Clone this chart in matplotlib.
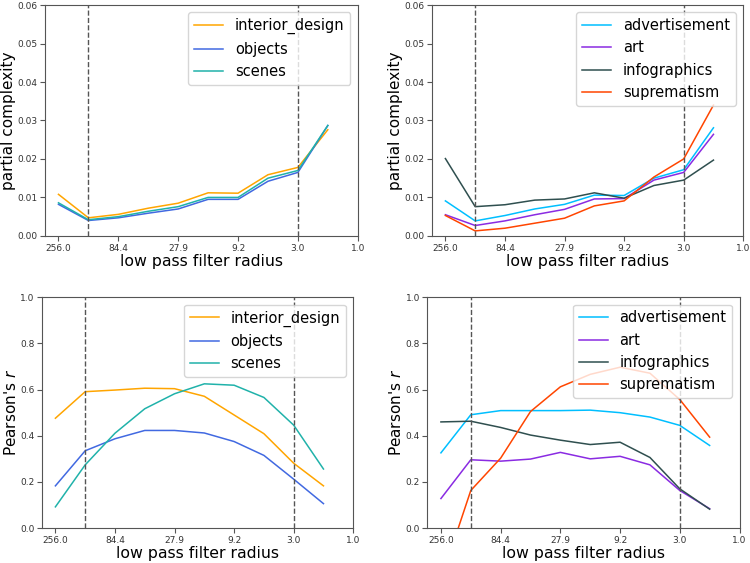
import numpy as np
import matplotlib
matplotlib.use("Agg")
import matplotlib.pyplot as plt

# low pass filter radius labels (every second step), 10 steps measured
tick_labels = ['256.0', '84.4', '27.9', '9.2', '3.0', '1.0']
steps = np.arange(10)

# partial complexity, left group
pc_interior = [0.0108, 0.0047, 0.0056, 0.0072, 0.0085, 0.0112, 0.0111, 0.0159, 0.0178, 0.0276]
pc_objects = [0.0082, 0.0040, 0.0047, 0.0059, 0.0070, 0.0095, 0.0095, 0.0142, 0.0165, 0.0287]
pc_scenes = [0.0086, 0.0042, 0.0050, 0.0064, 0.0076, 0.0100, 0.0100, 0.0150, 0.0170, 0.0287]

# partial complexity, right group
pc_advert = [0.0091, 0.0039, 0.0053, 0.0070, 0.0082, 0.0106, 0.0105, 0.0150, 0.0172, 0.0281]
pc_art = [0.0055, 0.0027, 0.0039, 0.0055, 0.0069, 0.0096, 0.0097, 0.0145, 0.0165, 0.0264]
pc_info = [0.0201, 0.0076, 0.0081, 0.0093, 0.0096, 0.0112, 0.0098, 0.0131, 0.0145, 0.0197]
pc_suprem = [0.0053, 0.0013, 0.0020, 0.0033, 0.0046, 0.0078, 0.0091, 0.0153, 0.0200, 0.0340]

# pearson's r, left group
r_interior = [0.476, 0.591, 0.598, 0.606, 0.604, 0.571, 0.490, 0.409, 0.281, 0.183]
r_objects = [0.183, 0.335, 0.387, 0.423, 0.423, 0.412, 0.375, 0.315, 0.212, 0.106]
r_scenes = [0.092, 0.274, 0.411, 0.517, 0.582, 0.625, 0.619, 0.566, 0.446, 0.256]

# pearson's r, right group
r_advert = [0.326, 0.491, 0.509, 0.509, 0.509, 0.511, 0.500, 0.481, 0.445, 0.358]
r_art = [0.128, 0.296, 0.290, 0.299, 0.328, 0.300, 0.311, 0.274, 0.163, 0.084]
r_info = [0.460, 0.463, 0.436, 0.403, 0.381, 0.362, 0.372, 0.306, 0.170, 0.082]
r_suprem = [-0.225, 0.163, 0.303, 0.505, 0.612, 0.666, 0.697, 0.671, 0.557, 0.394]

left_names = ['interior_design', 'objects', 'scenes']
left_colors = ['orange', 'royalblue', 'lightseagreen']
right_names = ['advertisement', 'art', 'infographics', 'suprematism']
right_colors = ['deepskyblue', 'blueviolet', 'darkslategray', 'orangered']

fig = plt.figure(figsize=(7.5, 5.63), dpi=100)
ax_tl = fig.add_axes([0.060, 0.581, 0.417, 0.410])
ax_tr = fig.add_axes([0.576, 0.581, 0.415, 0.410])
ax_bl = fig.add_axes([0.056, 0.062, 0.415, 0.410])
ax_br = fig.add_axes([0.570, 0.062, 0.416, 0.410])


def draw(ax, series, names, colors, ylim, yticks, ylabel, fmt):
    for vals, name, c in zip(series, names, colors):
        ax.plot(steps, vals, color=c, lw=1.1, label=name)
    ax.axvline(1, color='#555555', ls='--', lw=1)
    ax.axvline(8, color='#555555', ls='--', lw=1)
    ax.set_xlim(-0.45, 10)
    ax.set_xticks(np.arange(0, 11, 2))
    ax.set_xticklabels(tick_labels)
    ax.set_ylim(*ylim)
    ax.set_yticks(yticks)
    ax.set_yticklabels([fmt.format(v) for v in yticks])
    ax.tick_params(labelsize=6.5, colors='#555555', labelcolor='#333333', length=3.5, pad=2)
    for s in ax.spines.values():
        s.set_color('#555555')
    ax.set_xlabel('low pass filter radius', fontsize=11.3, labelpad=1)
    ax.set_ylabel(ylabel, fontsize=11, labelpad=1)
    ax.legend(loc='upper right', fontsize=10.5)


draw(ax_tl, [pc_interior, pc_objects, pc_scenes], left_names, left_colors,
     (0, 0.06), np.linspace(0, 0.06, 7), 'partial complexity', '{:.2f}')
draw(ax_tr, [pc_advert, pc_art, pc_info, pc_suprem], right_names, right_colors,
     (0, 0.06), np.linspace(0, 0.06, 7), 'partial complexity', '{:.2f}')
draw(ax_bl, [r_interior, r_objects, r_scenes], left_names, left_colors,
     (0, 1), np.linspace(0, 1, 6), "Pearson's $r$", '{:.1f}')
draw(ax_br, [r_advert, r_art, r_info, r_suprem], right_names, right_colors,
     (0, 1), np.linspace(0, 1, 6), "Pearson's $r$", '{:.1f}')

fig.savefig('out.png', dpi=100)
